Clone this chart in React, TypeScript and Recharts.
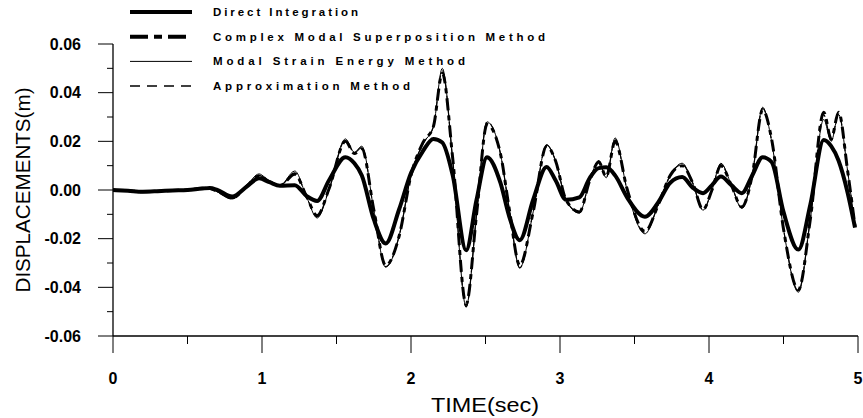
import { LineChart, Line, XAxis, YAxis } from 'recharts';

const time = [
  0, 0.1, 0.2, 0.3, 0.4, 0.5, 0.6, 0.65, 0.7, 0.8,
  0.9, 0.98, 1.05, 1.12, 1.22, 1.3, 1.37, 1.45, 1.56, 1.62,
  1.67, 1.75, 1.83, 1.92, 2.0, 2.08, 2.15, 2.21, 2.28, 2.37,
  2.44, 2.51, 2.6, 2.66, 2.73, 2.82, 2.91, 2.97, 3.04, 3.13,
  3.2, 3.26, 3.31, 3.37, 3.45, 3.57, 3.66, 3.74, 3.82, 3.89,
  3.96, 4.02, 4.08, 4.15, 4.22, 4.29, 4.36, 4.42, 4.5, 4.6,
  4.68, 4.77, 4.82, 4.87, 4.93, 4.98,
];

const directIntegration = [
  0, -0.0003, -0.0007, -0.0005, -0.0002, 0, 0.0006, 0.0008, 0, -0.0027,
  0.0015, 0.0048, 0.0032, 0.0017, 0.002, -0.0025, -0.0045, 0.004, 0.0135, 0.011,
  0.006, -0.012, -0.022, -0.008, 0.007, 0.016, 0.021, 0.0195, 0.006, -0.0248,
  -0.004, 0.0135, 0.003, -0.011, -0.0206, -0.004, 0.0095, 0.004, -0.004, -0.003,
  0.005, 0.009, 0.0093, 0.006, -0.003, -0.011, -0.005, 0.003, 0.0053, 0.001,
  -0.0013, 0.002, 0.0055, 0.002, -0.0013, 0.006, 0.0135, 0.0115, -0.009, -0.0245,
  -0.006, 0.0205, 0.018, 0.012, -0.001, -0.0155,
];

const complexModal = [
  0, -0.0003, -0.0007, -0.0005, -0.0002, 0, 0.0007, 0.0006, -0.0005, -0.0033,
  0.0018, 0.0058, 0.0034, 0.0018, 0.0065, -0.0028, -0.0105, 0.0005, 0.02, 0.015,
  0.017, -0.008, -0.031, -0.019, 0.006, 0.0195, 0.026, 0.048, 0.013, -0.047,
  -0.01, 0.027, 0.015, -0.008, -0.031, -0.009, 0.018, 0.012, -0.004, -0.009,
  0.004, 0.0115, 0.0055, 0.02, 0.0005, -0.017, -0.006, 0.006, 0.01, 0.003,
  -0.008, 0, 0.01, 0.002, -0.007, 0.006, 0.033, 0.021, -0.016, -0.041,
  -0.012, 0.032, 0.021, 0.032, 0.008, -0.015,
];

const modalStrain = [
  0, -0.0004, -0.0007, -0.0004, -0.0002, 0.0001, 0.0008, 0.0005, -0.0008, -0.0037,
  0.002, 0.0066, 0.0035, 0.0018, 0.0078, -0.003, -0.0115, 0, 0.021, 0.0155,
  0.018, -0.008, -0.0317, -0.019, 0.006, 0.019, 0.026, 0.05, 0.012, -0.048,
  -0.01, 0.028, 0.015, -0.008, -0.032, -0.009, 0.0186, 0.012, -0.004, -0.0095,
  0.004, 0.012, 0.005, 0.0214, 0, -0.018, -0.006, 0.006, 0.011, 0.003,
  -0.0083, 0, 0.011, 0.002, -0.0075, 0.006, 0.034, 0.02, -0.016, -0.042,
  -0.012, 0.029, 0.02, 0.031, 0.008, -0.015,
];

const approximation = [
  0, -0.0004, -0.0007, -0.0005, -0.0002, 0.0001, 0.0007, 0.0005, -0.0006, -0.0035,
  0.0019, 0.006, 0.0034, 0.0018, 0.007, -0.003, -0.011, 0.0003, 0.0205, 0.0152,
  0.0175, -0.008, -0.0315, -0.019, 0.006, 0.019, 0.026, 0.049, 0.0125, -0.048,
  -0.01, 0.028, 0.015, -0.008, -0.032, -0.009, 0.0185, 0.012, -0.004, -0.0092,
  0.004, 0.012, 0.005, 0.021, 0.0002, -0.0175, -0.006, 0.006, 0.0105, 0.003,
  -0.0082, 0, 0.0105, 0.002, -0.0073, 0.006, 0.0335, 0.0205, -0.016, -0.0415,
  -0.012, 0.031, 0.0205, 0.0315, 0.008, -0.015,
];

const yTicks = [-0.06, -0.05, -0.04, -0.03, -0.02, -0.01, 0, 0.01, 0.02, 0.03, 0.04, 0.05, 0.06];
const xTicks = [0, 0.5, 1, 1.5, 2, 2.5, 3, 3.5, 4, 4.5, 5];

const legendItems = [
  { label: 'Direct Integration', width: 4, dash: undefined, textLen: 145 },
  { label: 'Complex Modal Superposition Method', width: 4, dash: '18 6 8 6', textLen: 332 },
  { label: 'Modal Strain Energy Method', width: 1, dash: undefined, textLen: 252 },
  { label: 'Approximation Method', width: 1.5, dash: '10 7', textLen: 197 },
];

const data = time.map((t, i) => ({
  t,
  di: directIntegration[i],
  cm: complexModal[i],
  ms: modalStrain[i],
  ap: approximation[i],
}));

const font = '"Liberation Sans", Arial, sans-serif';

const YTick = (props: any) => {
  const { x, y, payload } = props;
  const n = Math.round(payload.value * 100);
  const major = n % 2 === 0;
  return (
    <g>
      <line x1={x - (major ? 15 : 6)} x2={x} y1={y} y2={y} stroke="#000" strokeWidth={1} />
      {major && (
        <text x={x - 32} y={y + 5.5} textAnchor="end" fontFamily={font} fontWeight="bold" fontSize={16} fill="#000">
          {(n / 100).toFixed(2)}
        </text>
      )}
    </g>
  );
};

const XTick = (props: any) => {
  const { x, y, payload } = props;
  const major = Number.isInteger(payload.value);
  return (
    <g>
      <line x1={x} x2={x} y1={y} y2={y + (major ? 17 : 8)} stroke="#000" strokeWidth={1} />
      {major && (
        <text x={x} y={y + 48} textAnchor="middle" fontFamily={font} fontWeight="bold" fontSize={16} fill="#000">
          {payload.value}
        </text>
      )}
    </g>
  );
};

export default function App() {
  return (
    <div style={{ position: 'relative', width: 863, height: 418, background: '#fff' }}>
      <style>{'body{margin:0}'}</style>
      <LineChart width={863} height={418} data={data} margin={{ top: 44, right: 5, bottom: 20, left: 33 }}>
        <XAxis
          dataKey="t"
          type="number"
          domain={[0, 5]}
          ticks={xTicks}
          interval={0}
          height={62}
          tickSize={0}
          tickMargin={0}
          tickLine={false}
          tick={<XTick />}
          axisLine={{ stroke: '#000', strokeWidth: 1.3 }}
        />
        <YAxis
          type="number"
          domain={[-0.06, 0.06]}
          ticks={yTicks}
          interval={0}
          width={80}
          tickSize={0}
          tickMargin={0}
          tickLine={false}
          tick={<YTick />}
          axisLine={{ stroke: '#000', strokeWidth: 1.3 }}
        />
        <Line type="monotone" dataKey="cm" stroke="#000" strokeWidth={3} strokeDasharray="12 5 5 5" dot={false} isAnimationActive={false} />
        <Line type="monotone" dataKey="ms" stroke="#000" strokeWidth={1} dot={false} isAnimationActive={false} />
        <Line type="monotone" dataKey="ap" stroke="#000" strokeWidth={1.2} strokeDasharray="8 5" dot={false} isAnimationActive={false} />
        <Line type="monotone" dataKey="di" stroke="#000" strokeWidth={4} dot={false} isAnimationActive={false} />
      </LineChart>
      <svg width={863} height={418} style={{ position: 'absolute', left: 0, top: 0, pointerEvents: 'none' }}>
        {legendItems.map((item, i) => {
          const y = 12 + i * 24.7;
          return (
            <g key={item.label}>
              <line x1={130} x2={192} y1={y} y2={y} stroke="#000" strokeWidth={item.width} strokeDasharray={item.dash} />
              <text
                x={213}
                y={y + 4}
                fontFamily={font}
                fontWeight="bold"
                fontSize={11.5}
                textLength={item.textLen}
                lengthAdjust="spacing"
                fill="#000"
              >
                {item.label}
              </text>
            </g>
          );
        })}
        <text
          x={0}
          y={0}
          transform="translate(30,190) rotate(-90)"
          textAnchor="middle"
          fontFamily={font}
          fontSize={20}
          textLength={205}
          lengthAdjust="spacingAndGlyphs"
          fill="#000"
        >
          DISPLACEMENTS(m)
        </text>
        <text
          x={485}
          y={412}
          textAnchor="middle"
          fontFamily={font}
          fontSize={20}
          textLength={108}
          lengthAdjust="spacingAndGlyphs"
          fill="#000"
        >
          TIME(sec)
        </text>
      </svg>
    </div>
  );
}
